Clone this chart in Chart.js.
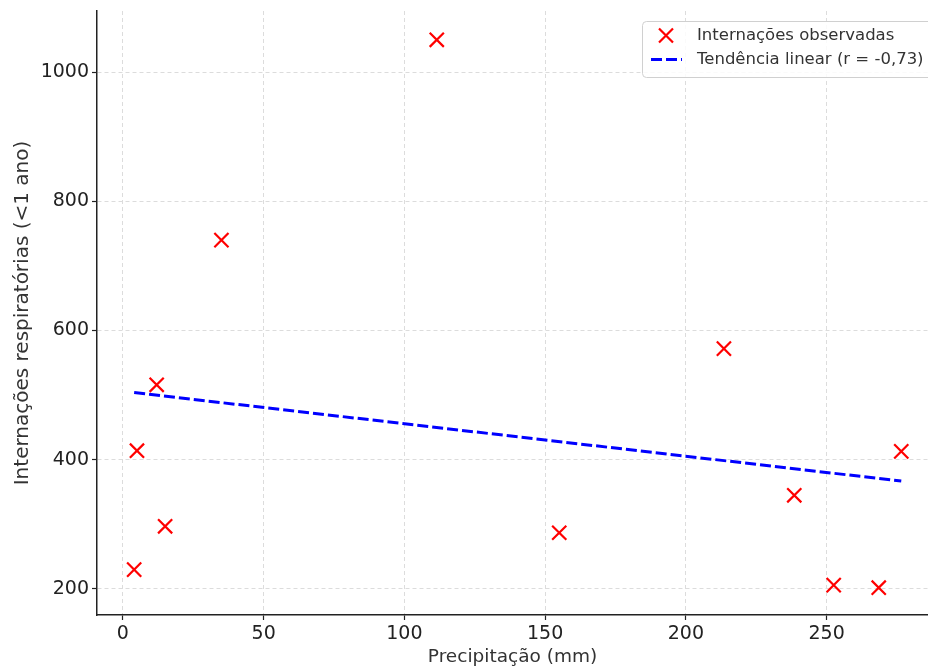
<!DOCTYPE html>
<html>
<head>
<meta charset="utf-8">
<script src="https://cdn.jsdelivr.net/npm/chart.js@4/dist/chart.umd.min.js"></script>
<style>
  html, body { margin: 0; padding: 0; background: #fff; }
  #wrap { width: 928px; height: 668px; position: relative; }
</style>
</head>
<body>
<div id="wrap"><canvas id="c" width="928" height="668"></canvas></div>
<script>
// Data
const precipitation = [4, 5, 12, 15, 35, 111.5, 155, 213.5, 238.5, 252.5, 268.5, 276.5];
const admissions    = [230, 414, 516, 297, 740, 1050, 287, 572, 345, 206, 202, 413];
const trendX = [4, 276.5];
const trendY = [504, 367];
const xTicks = [0, 50, 100, 150, 200, 250];
const yTicks = [200, 400, 600, 800, 1000];
const seriesLabels = ['Internações observadas', 'Tendência linear (r = -0,73)'];
const xTitle = 'Precipitação (mm)';
const yTitle = 'Internações respiratórias (<1 ano)';

const FONT = "'DejaVu Sans', sans-serif";

const scatterPoints = precipitation.map((x, i) => ({ x, y: admissions[i] }));
const trendPoints = trendX.map((x, i) => ({ x, y: trendY[i] }));

const legendPlugin = {
  id: 'customLegend',
  afterDraw(chart) {
    const ctx = chart.ctx;
    ctx.save();
    const x0 = 642.5, y0 = 21.5, w = 300, h = 56, r = 4;
    ctx.beginPath();
    ctx.moveTo(x0 + r, y0);
    ctx.lineTo(x0 + w, y0);
    ctx.lineTo(x0 + w, y0 + h);
    ctx.lineTo(x0 + r, y0 + h);
    ctx.arcTo(x0, y0 + h, x0, y0 + h - r, r);
    ctx.lineTo(x0, y0 + r);
    ctx.arcTo(x0, y0, x0 + r, y0, r);
    ctx.closePath();
    ctx.fillStyle = 'rgba(255,255,255,0.85)';
    ctx.fill();
    ctx.strokeStyle = '#d0d0d0';
    ctx.lineWidth = 1;
    ctx.stroke();

    // marker row 1
    ctx.strokeStyle = '#ff0000';
    ctx.lineWidth = 2.2;
    ctx.beginPath();
    ctx.moveTo(666 - 7, 35.5 - 7); ctx.lineTo(666 + 7, 35.5 + 7);
    ctx.moveTo(666 + 7, 35.5 - 7); ctx.lineTo(666 - 7, 35.5 + 7);
    ctx.stroke();

    // line row 2
    ctx.strokeStyle = '#0000ff';
    ctx.lineWidth = 3;
    ctx.setLineDash([11, 4]);
    ctx.beginPath();
    ctx.moveTo(651, 59.5); ctx.lineTo(682, 59.5);
    ctx.stroke();
    ctx.setLineDash([]);

    ctx.fillStyle = '#333';
    ctx.font = '16.5px ' + FONT;
    ctx.textBaseline = 'middle';
    ctx.textAlign = 'left';
    ctx.fillText(seriesLabels[0], 697, 35.5);
    ctx.fillText(seriesLabels[1], 697, 59.5);
    ctx.restore();
  }
};

new Chart(document.getElementById('c'), {
  type: 'scatter',
  data: {
    datasets: [
      {
        label: seriesLabels[0],
        data: scatterPoints,
        pointStyle: 'crossRot',
        pointRadius: 10,
        pointHoverRadius: 10,
        pointBorderColor: '#ff0000',
        pointBackgroundColor: '#ff0000',
        pointBorderWidth: 2.2,
        showLine: false
      },
      {
        type: 'line',
        label: seriesLabels[1],
        data: trendPoints,
        borderColor: '#0000ff',
        borderWidth: 3,
        borderDash: [11, 4],
        pointRadius: 0,
        fill: false,
        tension: 0
      }
    ]
  },
  options: {
    responsive: false,
    animation: false,
    events: [],
    layout: { autoPadding: false, padding: { top: 11, left: 0, right: 0, bottom: 0 } },
    plugins: {
      legend: { display: false },
      tooltip: { enabled: false },
      title: { display: false }
    },
    scales: {
      x: {
        type: 'linear',
        min: -9.2,
        max: 286,
        afterBuildTicks(scale) { scale.ticks = xTicks.map(v => ({ value: v })); },
        afterFit(scale) { scale.height = 53; scale.paddingLeft = 0; scale.paddingRight = 0; },
        ticks: {
          color: '#222',
          font: { family: FONT, size: 19 },
          padding: 3,
          maxRotation: 0,
          callback: v => String(v)
        },
        grid: {
          color: '#dcdcdc',
          lineWidth: 1,
          tickColor: '#222',
          tickLength: 5,
          tickWidth: 1.2
        },
        border: { display: true, color: '#222', width: 1.5, dash: [4, 3] },
        title: {
          display: true,
          text: xTitle,
          color: '#333',
          font: { family: FONT, size: 18.5 },
          padding: { top: 0, bottom: 0 }
        }
      },
      y: {
        type: 'linear',
        min: 159.7,
        max: 1094.6,
        afterBuildTicks(scale) { scale.ticks = yTicks.map(v => ({ value: v })); },
        afterFit(scale) { scale.width = 97; scale.paddingTop = 0; scale.paddingBottom = 0; },
        ticks: {
          color: '#222',
          font: { family: FONT, size: 19 },
          padding: 3,
          callback: v => String(v)
        },
        grid: {
          color: '#dcdcdc',
          lineWidth: 1,
          tickColor: '#222',
          tickLength: 5,
          tickWidth: 1.2
        },
        border: { display: true, color: '#222', width: 1.5, dash: [4, 3] },
        title: {
          display: true,
          text: yTitle,
          color: '#333',
          font: { family: FONT, size: 20 },
          padding: { top: 11, bottom: 0 }
        }
      }
    }
  },
  plugins: [legendPlugin]
});
</script>
</body>
</html>
